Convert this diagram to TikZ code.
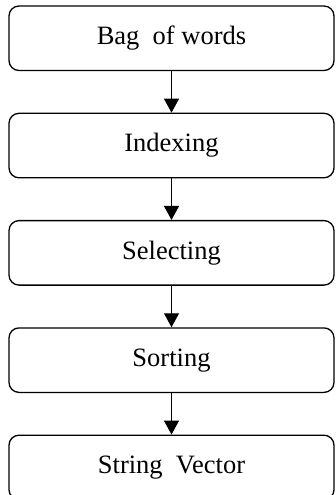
\documentclass[tikz,border=0pt]{standalone}
\usepackage{fontspec}
\setmainfont{Liberation Serif}
\usetikzlibrary{arrows.meta, positioning}

\begin{document}
\begin{tikzpicture}[
  x=1pt, y=1pt,
  node distance = 41.5pt,
  block/.style = {
    rectangle, draw, rounded corners=10pt, line width=1.3pt,
    minimum width=325pt, minimum height=64.5pt, align=center,
    font=\fontsize{26.5}{30}\selectfont
  },
  arrow/.style = {
    -{Triangle[width=15pt, length=14pt]}, line width=1.3pt
  }
]

% ====== FRAME ======
\useasboundingbox (0,0) rectangle (335,-495);

% ====== STEPS (one column) ======
\node[block] (bag) at (171.5,-38.25) {Bag\ \ of words};
\node[block, below=of bag] (indexing) {Indexing};
\node[block, below=of indexing] (selecting) {Selecting};
\node[block, below=of selecting] (sorting) {Sorting};
\node[block, below=of sorting] (strvec) {String\ \ Vector};

% ====== ARROWS ======
\draw[arrow] (bag) -- (indexing);
\draw[arrow] (indexing) -- (selecting);
\draw[arrow] (selecting) -- (sorting);
\draw[arrow] (sorting) -- (strvec);

\end{tikzpicture}
\end{document}
